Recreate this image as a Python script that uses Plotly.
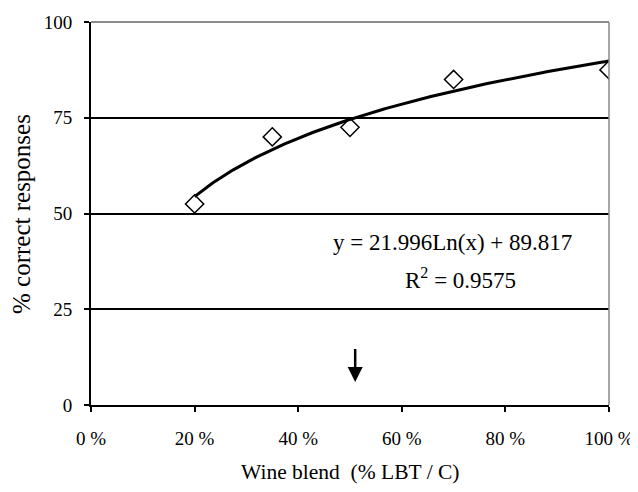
import numpy as np
import plotly.graph_objects as go

blend_pct = [20, 35, 50, 70, 100]
correct = [52.5, 70, 72.5, 85, 87.5]
fit_a = 21.996
fit_b = 89.817
r2 = 0.9575
x_ticks = [0, 20, 40, 60, 80, 100]
y_ticks = [0, 25, 50, 75, 100]
arrow_x = 51
arrow_top = 15
arrow_tip = 6

fx = np.linspace(0.2, 1.0, 200)
fy = fit_a * np.log(fx) + fit_b

font = "Liberation Serif, Times New Roman, serif"
fig = go.Figure()
fig.add_trace(go.Scatter(x=fx * 100, y=fy, mode="lines",
                         line=dict(color="black", width=3), showlegend=False))
fig.add_trace(go.Scatter(x=blend_pct, y=correct, mode="markers",
                         marker=dict(symbol="diamond-open", size=14,
                                     color="black", line=dict(width=1.5)),
                         showlegend=False))

fig.add_annotation(x=69.7, y=42.3, xref="x", yref="y",
                   text=f"y = {fit_a}Ln(x) + {fit_b}", showarrow=False,
                   xanchor="center", yanchor="middle",
                   font=dict(family=font, size=23, color="black"))
fig.add_annotation(x=71.4, y=33.0, xref="x", yref="y",
                   text=f"R<sup>2</sup> = {r2}", showarrow=False,
                   xanchor="center", yanchor="middle",
                   font=dict(family=font, size=23, color="black"))
fig.add_annotation(x=arrow_x, y=arrow_tip, ax=arrow_x, ay=arrow_top,
                   xref="x", yref="y", axref="x", ayref="y", text="",
                   showarrow=True, arrowhead=2, arrowsize=1.2, arrowwidth=2.5,
                   arrowcolor="black")

# axis titles
fig.add_annotation(x=-0.133, y=0.499, xref="paper", yref="paper",
                   text="% correct responses", textangle=-90, showarrow=False,
                   xanchor="center", yanchor="middle",
                   font=dict(family=font, size=25, color="black"))
fig.add_annotation(x=0.5, y=-0.175, xref="paper", yref="paper",
                   text="Wine blend  (% LBT / C)", showarrow=False,
                   xanchor="center", yanchor="middle",
                   font=dict(family=font, size=21.5, color="black"))

fig.add_shape(type="line", xref="paper", yref="paper", x0=0, x1=1, y0=1, y1=1,
              line=dict(color="#666666", width=1.5))
fig.add_shape(type="line", xref="paper", yref="paper", x0=1, x1=1, y0=0, y1=1,
              line=dict(color="#888888", width=1.5))

# page body has an 8px margin, so the figure is sized and placed to compensate
fig.update_layout(
    width=630, height=484,
    margin=dict(l=83, r=29, t=14, b=87, autoexpand=False),
    paper_bgcolor="white", plot_bgcolor="white",
    font=dict(family=font, size=19, color="black"),
    xaxis=dict(range=[0, 100], tickvals=x_ticks,
               ticktext=[f"{v} %" for v in x_ticks],
               showgrid=False, zeroline=False, showline=True, automargin=False,
               linecolor="black", linewidth=2, ticks="outside",
               ticklen=5, tickwidth=2, tickcolor="black",
               ticklabelstandoff=10),
    yaxis=dict(range=[0, 100], tickvals=y_ticks,
               showgrid=True, gridcolor="black", gridwidth=2, automargin=False,
               zeroline=False, showline=True,
               linecolor="black", linewidth=2, ticks="outside",
               ticklen=5, tickwidth=2, tickcolor="black",
               ticklabelstandoff=8),
)

fig.write_html("out.html")
